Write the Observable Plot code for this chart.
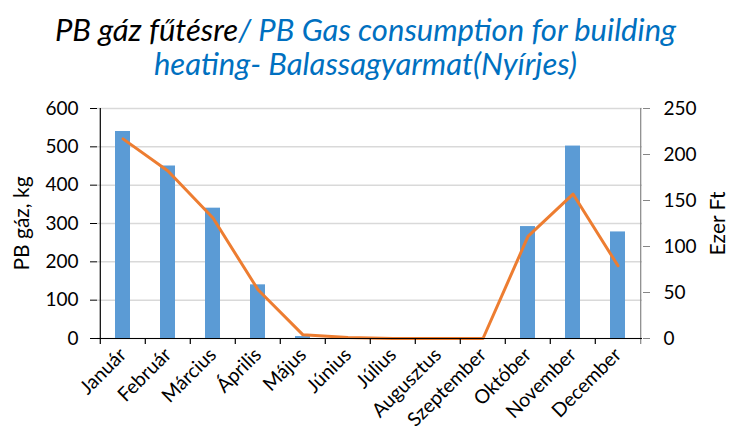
<!DOCTYPE html>
<html>
<head>
<meta charset="utf-8">
<script src="https://cdn.jsdelivr.net/npm/d3@7"></script>
<script src="https://cdn.jsdelivr.net/npm/@observablehq/plot@0.6"></script>
<style>
  html, body { margin: 0; padding: 0; background: #fff; }
  #title {
    box-sizing: border-box; width: 731px; height: 90px; padding-top: 12px;
    font-family: Lato, "Open Sans", sans-serif; font-style: italic; font-size: 31px;
    line-height: 34px; text-align: center; color: #0070C0;
  }
  #title .black { color: #000; }
</style>
</head>
<body>
<div id="title"><span class="black">PB gáz fűtésre</span>/ PB Gas consumption for building<br>heating- Balassagyarmat(Nyírjes)</div>
<div id="chart"></div>
<script>
const months = ["Január","Február","Március","Április","Május","Június","Július","Augusztus","Szeptember","Október","November","December"];
const gasKg = [540, 450, 340, 140, 5, 0, 0, 0, 0, 292, 502, 278];
const costEzerFt = [217, 182, 131, 53, 4, 1, 0, 0, 0, 111, 157, 79];
const leftTicks = [0, 100, 200, 300, 400, 500, 600];
const rightTicks = [0, 50, 100, 150, 200, 250];
const leftLabel = "PB gáz, kg";
const rightLabel = "Ezer Ft";

const k = 600 / 250; // right-axis value -> left-axis units
const data = months.map((m, i) => ({month: m, gas: gasKg[i], cost: costEzerFt[i]}));

const W = 731, H = 342, mL = 97, mR = 89, mT = 18, mB = 94;
const step = (W - mL - mR) / months.length;
const unitsPerPx = 600 / (H - mT - mB);

const chart = Plot.plot({
  width: W, height: H,
  marginLeft: mL, marginRight: mR, marginTop: mT, marginBottom: mB,
  style: {fontFamily: "Lato, 'Open Sans', sans-serif", fontSize: "19px", color: "#000", background: "#fff"},
  x: {domain: months, padding: 0, label: null},
  y: {domain: [0, 600], label: null},
  marks: [
    Plot.ruleY(leftTicks, {stroke: "#d9d9d9", strokeWidth: 1.5}),
    Plot.barY(data, {x: "month", y: "gas", fill: "#5B9BD5", insetLeft: 15, insetRight: 15}),
    Plot.line(data, {x: "month", y: d => d.cost * k, stroke: "#ED7D31", strokeWidth: 3, strokeLinejoin: "round"}),
    // left axis line
    Plot.ruleX([months[0]], {dx: -step / 2, y1: 0, y2: 600, stroke: "#000", strokeWidth: 1.2}),
    // right axis line
    Plot.ruleX([months[months.length - 1]], {dx: step / 2, y1: -6 * unitsPerPx, y2: 600, stroke: "#868686", strokeWidth: 1.2}),
    // bottom axis line
    Plot.ruleY([0], {stroke: "#000", strokeWidth: 1.2}),
    // category boundary ticks
    Plot.ruleX(months, {dx: -step / 2, y1: 0, y2: -6 * unitsPerPx, stroke: "#000", strokeWidth: 1.2}),
    Plot.axisY(leftTicks, {anchor: "left", tickSize: 7, tickPadding: 12, label: null, fontSize: 19}),
    Plot.axisY(rightTicks.map(t => t * k), {anchor: "right", tickSize: 7, tickPadding: 14, label: null, stroke: "#868686", fill: "#000", fontSize: 19, tickFormat: d => String(Math.round(d / k))}),
    Plot.axisX({anchor: "bottom", tickSize: 0, tickPadding: 13, tickRotate: -45, label: null, fontSize: 19.5}),
    Plot.text([leftLabel], {frameAnchor: "left", textAnchor: "middle", dx: -75, rotate: -90, fontSize: 21, fill: "#000"}),
    Plot.text([rightLabel], {frameAnchor: "right", textAnchor: "middle", dx: 76, rotate: -90, fontSize: 21, fill: "#000"})
  ]
});
document.getElementById("chart").appendChild(chart);
</script>
</body>
</html>
